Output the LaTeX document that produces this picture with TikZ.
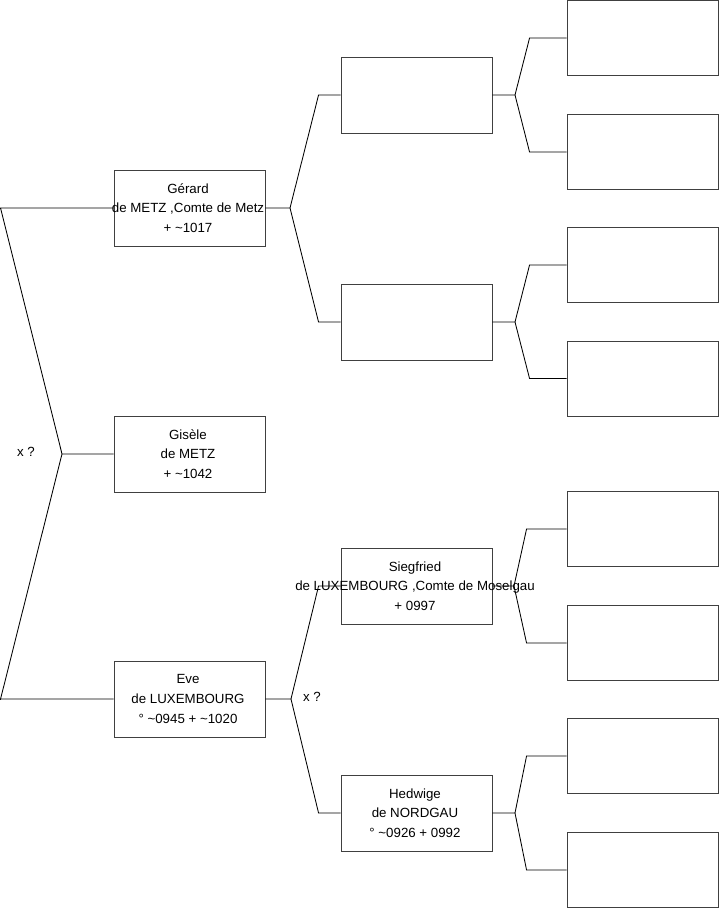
\documentclass[tikz,border=0pt]{standalone}
\usepackage{fontspec}
\setmainfont{Liberation Sans}
\usetikzlibrary{positioning}
\newcommand{\pline}[1]{\makebox[0pt]{\hspace{-3pt}#1}}
\tikzset{
    person/.style={draw, rectangle, minimum width=151pt, minimum height=76pt, inner sep=0pt, align=center, draw=black!75, fill=white, line width=0.9pt, font=\fontsize{13.3}{19.6}\selectfont},
    slot/.style={draw, rectangle, minimum width=151pt, minimum height=75pt, inner sep=0pt, draw=black!75, fill=white, line width=0.9pt},
    link/.style={draw=black, line width=0.85pt},
    note/.style={inner sep=0pt, font=\fontsize{13.3}{16}\selectfont}
}
\begin{document}
\begin{tikzpicture}[x=1pt, y=-1pt]
        \useasboundingbox (0,0) rectangle (719,908);

        % Generation 1
        \node (gerard) [person] at (189.5,208) {\pline{Gérard}\\\pline{de METZ ,Comte de Metz}\\\pline{+ \textasciitilde1017}};
        \node (gisele) [person] at (189.5,454) {\pline{Gisèle}\\\pline{de METZ}\\\pline{+ \textasciitilde1042}};
        \node (eve) [person] at (189.5,699) {\pline{Eve}\\\pline{de LUXEMBOURG}\\\pline{° \textasciitilde0945 + \textasciitilde1020}};

        % Generation 2
        \node (pgerard) [person] at (416.5,95) {};
        \node (mgerard) [person] at (416.5,322) {};
        \node (siegfried) [person] at (416.5,586) {\pline{Siegfried}\\\pline{de LUXEMBOURG ,Comte de Moselgau}\\\pline{+ 0997}};
        \node (hedwige) [person] at (416.5,813) {\pline{Hedwige}\\\pline{de NORDGAU}\\\pline{° \textasciitilde0926 + 0992}};

        % Generation 3
        \node (a1) [slot] at (642.5,38) {};
        \node (a2) [slot] at (642.5,152) {};
        \node (a3) [slot] at (642.5,265) {};
        \node (a4) [slot] at (642.5,378.5) {};
        \node (a5) [slot] at (642.5,529) {};
        \node (a6) [slot] at (642.5,643) {};
        \node (a7) [slot] at (642.5,756) {};
        \node (a8) [slot] at (642.5,870) {};

        % Forks
        \coordinate (fgisele) at (62,454);
        \coordinate (fgerard) at (290,208);
        \coordinate (feve) at (291,699);
        \coordinate (fp) at (515,95);
        \coordinate (fm) at (515,322);
        \coordinate (fs) at (514,586);
        \coordinate (fh) at (515,813);

        \node (xq1) [note] at (26,452) {x ?};
        \node (xq2) [note] at (312,697) {x ?};

        % Connexions
        \draw [link] (gisele.west) -- (fgisele) -- ([xshift=-113pt]gerard.west) -- (gerard.west);
        \draw [link] ([xshift=-113pt]gerard.west) -- ([xshift=-114pt]gerard.west);
        \draw [link] (fgisele) -- ([xshift=-113pt]eve.west) -- (eve.west);
        \draw [link] ([xshift=-113pt]eve.west) -- ([xshift=-114pt]eve.west);

        \draw [link] (gerard.east) -- (fgerard) -- ([xshift=-22pt]pgerard.west) -- (pgerard.west);
        \draw [link] (fgerard) -- ([xshift=-22pt]mgerard.west) -- (mgerard.west);
        \draw [link] (eve.east) -- (feve) -- ([xshift=-22pt]siegfried.west) -- (siegfried.west);
        \draw [link] (feve) -- ([xshift=-22pt]hedwige.west) -- (hedwige.west);

        \draw [link] (pgerard.east) -- (fp) -- ([xshift=-37pt]a1.west) -- (a1.west);
        \draw [link] (fp) -- ([xshift=-37pt]a2.west) -- (a2.west);
        \draw [link] (mgerard.east) -- (fm) -- ([xshift=-37pt]a3.west) -- (a3.west);
        \draw [link] (fm) -- ([xshift=-37pt]a4.west) -- (a4.west);
        \draw [link] (siegfried.east) -- (fs) -- ([xshift=-40pt]a5.west) -- (a5.west);
        \draw [link] (fs) -- ([xshift=-40pt]a6.west) -- (a6.west);
        \draw [link] (hedwige.east) -- (fh) -- ([xshift=-40pt]a7.west) -- (a7.west);
        \draw [link] (fh) -- ([xshift=-40pt]a8.west) -- (a8.west);

\end{tikzpicture}
\end{document}
